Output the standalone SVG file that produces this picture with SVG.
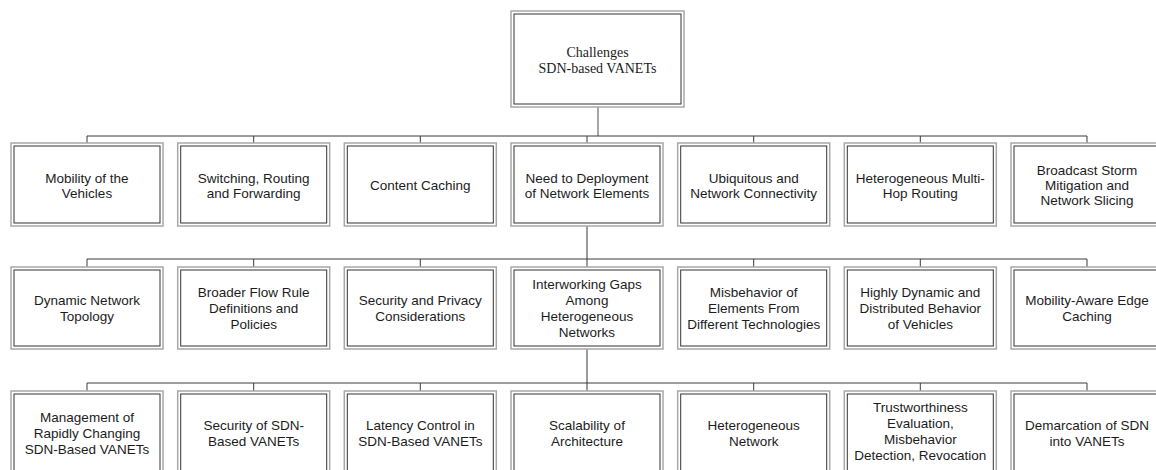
<svg xmlns="http://www.w3.org/2000/svg" width="1156" height="470" viewBox="0 0 1156 470">
  <style>
    .outer { fill: #ffffff; stroke: #a8a8a8; stroke-width: 1.5; }
    .inner { fill: none; stroke: #333333; stroke-width: 1; }
    .lbl { font-family: "Liberation Sans", Arial, sans-serif; font-size: 13.5px; fill: #1c1c1c; text-anchor: middle; }
    .root { font-family: "Liberation Serif", "Times New Roman", serif; font-size: 14px; fill: #1c1c1c; text-anchor: middle; }
    .link { stroke: #3a3a3a; stroke-width: 1; fill: none; }
    .trunk { stroke: #8a8a8a; stroke-width: 1.5; fill: none; }
  </style>

  <rect width="1156" height="470" fill="#ffffff"/>

  <!-- connectors -->
  <g id="connectors">
    <!-- root to first level -->
    <line class="trunk" x1="598" y1="107" x2="598" y2="136"/>
    <line class="link" x1="87" y1="136" x2="1087" y2="136"/>
    <path class="link" d="M87 136V143M253.7 136V143M420.3 136V143M587 136V143M753.7 136V143M920.3 136V143M1087 136V143"/>
    <!-- first level to second level -->
    <line class="link" x1="587" y1="226" x2="587" y2="259"/>
    <line class="link" x1="87" y1="259" x2="1087" y2="259"/>
    <path class="link" d="M87 259V267M253.7 259V267M420.3 259V267M587 259V267M753.7 259V267M920.3 259V267M1087 259V267"/>
    <!-- second level to third level -->
    <line class="link" x1="587" y1="349" x2="587" y2="383"/>
    <line class="link" x1="87" y1="383" x2="1087" y2="383"/>
    <path class="link" d="M87 383V391M253.7 383V391M420.3 383V391M587 383V391M753.7 383V391M920.3 383V391M1087 383V391"/>
  </g>

  <!-- root node -->
  <g id="root">
    <rect class="outer" x="511" y="11" width="173" height="96"/>
    <rect class="inner" x="514" y="14" width="167" height="90" stroke="#8a8a8a"/>
    <text class="root" x="597.5"><tspan x="597.5" y="57">Challenges</tspan><tspan x="597.5" y="73">SDN-based VANETs</tspan></text>
  </g>

  <!-- first level -->
  <g id="mobility">
    <rect class="outer" x="11" y="143" width="152" height="83"/><rect class="inner" x="14" y="146" width="146" height="77"/>
    <text class="lbl"><tspan x="87" y="183">Mobility of the</tspan><tspan x="87" y="198">Vehicles</tspan></text>
  </g>
  <g id="switching">
    <rect class="outer" x="177.7" y="143" width="152" height="83"/><rect class="inner" x="180.7" y="146" width="146" height="77"/>
    <text class="lbl"><tspan x="253.7" y="183">Switching, Routing</tspan><tspan x="253.7" y="198">and Forwarding</tspan></text>
  </g>
  <g id="caching">
    <rect class="outer" x="344.3" y="143" width="152" height="83"/><rect class="inner" x="347.3" y="146" width="146" height="77"/>
    <text class="lbl"><tspan x="420.3" y="190">Content Caching</tspan></text>
  </g>
  <g id="deployment">
    <rect class="outer" x="511" y="143" width="152" height="83"/><rect class="inner" x="514" y="146" width="146" height="77"/>
    <text class="lbl"><tspan x="587" y="183">Need to Deployment</tspan><tspan x="587" y="198">of Network Elements</tspan></text>
  </g>
  <g id="connectivity">
    <rect class="outer" x="677.7" y="143" width="152" height="83"/><rect class="inner" x="680.7" y="146" width="146" height="77"/>
    <text class="lbl"><tspan x="753.7" y="183">Ubiquitous and</tspan><tspan x="753.7" y="198">Network Connectivity</tspan></text>
  </g>
  <g id="multihop">
    <rect class="outer" x="844.3" y="143" width="152" height="83"/><rect class="inner" x="847.3" y="146" width="146" height="77"/>
    <text class="lbl"><tspan x="920.3" y="183">Heterogeneous Multi-</tspan><tspan x="920.3" y="198">Hop Routing</tspan></text>
  </g>
  <g id="broadcast">
    <rect class="outer" x="1011" y="143" width="152" height="83"/><rect class="inner" x="1014" y="146" width="146" height="77"/>
    <text class="lbl"><tspan x="1087" y="175">Broadcast Storm</tspan><tspan x="1087" y="190">Mitigation and</tspan><tspan x="1087" y="205">Network Slicing</tspan></text>
  </g>

  <!-- second level -->
  <g id="topology">
    <rect class="outer" x="11" y="267" width="152" height="82"/><rect class="inner" x="14" y="270" width="146" height="76"/>
    <text class="lbl"><tspan x="87" y="305">Dynamic Network</tspan><tspan x="87" y="321">Topology</tspan></text>
  </g>
  <g id="flowrules">
    <rect class="outer" x="177.7" y="267" width="152" height="82"/><rect class="inner" x="180.7" y="270" width="146" height="76"/>
    <text class="lbl"><tspan x="253.7" y="297">Broader Flow Rule</tspan><tspan x="253.7" y="313">Definitions and</tspan><tspan x="253.7" y="329">Policies</tspan></text>
  </g>
  <g id="privacy">
    <rect class="outer" x="344.3" y="267" width="152" height="82"/><rect class="inner" x="347.3" y="270" width="146" height="76"/>
    <text class="lbl"><tspan x="420.3" y="305">Security and Privacy</tspan><tspan x="420.3" y="321">Considerations</tspan></text>
  </g>
  <g id="interworking">
    <rect class="outer" x="511" y="267" width="152" height="82"/><rect class="inner" x="514" y="270" width="146" height="76"/>
    <text class="lbl"><tspan x="587" y="289">Interworking Gaps</tspan><tspan x="587" y="305">Among</tspan><tspan x="587" y="321">Heterogeneous</tspan><tspan x="587" y="337">Networks</tspan></text>
  </g>
  <g id="misbehavior">
    <rect class="outer" x="677.7" y="267" width="152" height="82"/><rect class="inner" x="680.7" y="270" width="146" height="76"/>
    <text class="lbl"><tspan x="753.7" y="297">Misbehavior of</tspan><tspan x="753.7" y="313">Elements From</tspan><tspan x="753.7" y="329">Different Technologies</tspan></text>
  </g>
  <g id="dynamic-behavior">
    <rect class="outer" x="844.3" y="267" width="152" height="82"/><rect class="inner" x="847.3" y="270" width="146" height="76"/>
    <text class="lbl"><tspan x="920.3" y="297">Highly Dynamic and</tspan><tspan x="920.3" y="313">Distributed Behavior</tspan><tspan x="920.3" y="329">of Vehicles</tspan></text>
  </g>
  <g id="edge-caching">
    <rect class="outer" x="1011" y="267" width="152" height="82"/><rect class="inner" x="1014" y="270" width="146" height="76"/>
    <text class="lbl"><tspan x="1087" y="305">Mobility-Aware Edge</tspan><tspan x="1087" y="321">Caching</tspan></text>
  </g>

  <!-- third level -->
  <g id="management">
    <rect class="outer" x="11" y="391" width="152" height="84"/><rect class="inner" x="14" y="394" width="146" height="78"/>
    <text class="lbl"><tspan x="87" y="422">Management of</tspan><tspan x="87" y="438">Rapidly Changing</tspan><tspan x="87" y="454">SDN-Based VANETs</tspan></text>
  </g>
  <g id="security">
    <rect class="outer" x="177.7" y="391" width="152" height="84"/><rect class="inner" x="180.7" y="394" width="146" height="78"/>
    <text class="lbl"><tspan x="253.7" y="430">Security of SDN-</tspan><tspan x="253.7" y="446">Based VANETs</tspan></text>
  </g>
  <g id="latency">
    <rect class="outer" x="344.3" y="391" width="152" height="84"/><rect class="inner" x="347.3" y="394" width="146" height="78"/>
    <text class="lbl"><tspan x="420.3" y="430">Latency Control in</tspan><tspan x="420.3" y="446">SDN-Based VANETs</tspan></text>
  </g>
  <g id="scalability">
    <rect class="outer" x="511" y="391" width="152" height="84"/><rect class="inner" x="514" y="394" width="146" height="78"/>
    <text class="lbl"><tspan x="587" y="430">Scalability of</tspan><tspan x="587" y="446">Architecture</tspan></text>
  </g>
  <g id="heterogeneous">
    <rect class="outer" x="677.7" y="391" width="152" height="84"/><rect class="inner" x="680.7" y="394" width="146" height="78"/>
    <text class="lbl"><tspan x="753.7" y="430">Heterogeneous</tspan><tspan x="753.7" y="446">Network</tspan></text>
  </g>
  <g id="trust">
    <rect class="outer" x="844.3" y="391" width="152" height="84"/><rect class="inner" x="847.3" y="394" width="146" height="78"/>
    <text class="lbl"><tspan x="920.3" y="412">Trustworthiness</tspan><tspan x="920.3" y="428">Evaluation,</tspan><tspan x="920.3" y="444">Misbehavior</tspan><tspan x="920.3" y="460">Detection, Revocation</tspan></text>
  </g>
  <g id="demarcation">
    <rect class="outer" x="1011" y="391" width="152" height="84"/><rect class="inner" x="1014" y="394" width="146" height="78"/>
    <text class="lbl"><tspan x="1087" y="430">Demarcation of SDN</tspan><tspan x="1087" y="446">into VANETs</tspan></text>
  </g>
</svg>
